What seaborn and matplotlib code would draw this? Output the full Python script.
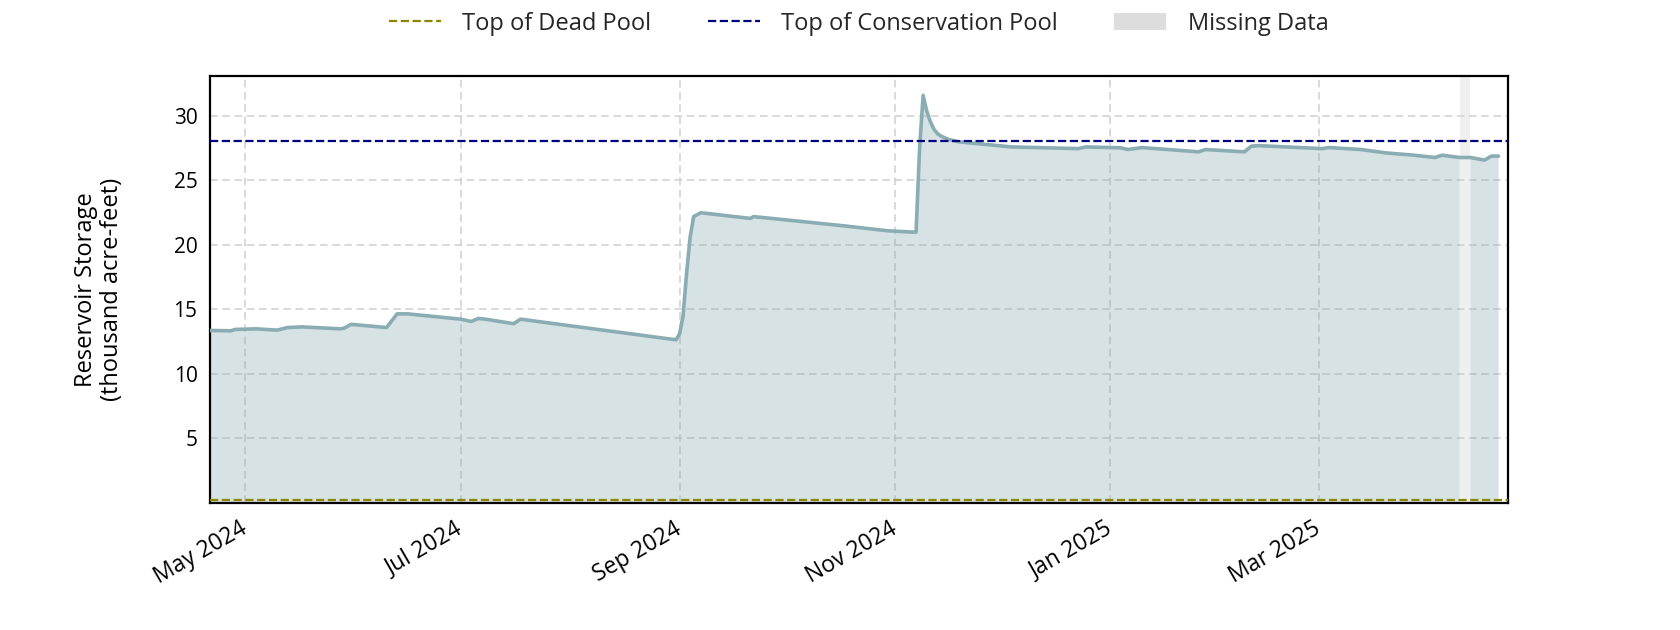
import numpy as np
import pandas as pd
import matplotlib
matplotlib.use("Agg")
import matplotlib.pyplot as plt
import matplotlib.dates as mdates
import matplotlib.transforms as mtransforms
from matplotlib.patches import Patch
from matplotlib.lines import Line2D
import seaborn as sns

# ---------------- data ----------------
dates = [
    "2024-04-21", "2024-04-27", "2024-04-28", "2024-05-04", "2024-05-10", "2024-05-13",
    "2024-05-17", "2024-05-28", "2024-05-29", "2024-05-31", "2024-06-10", "2024-06-13",
    "2024-06-16", "2024-07-01", "2024-07-04", "2024-07-06", "2024-07-08", "2024-07-16",
    "2024-07-18", "2024-07-22", "2024-08-31", "2024-09-01", "2024-09-02", "2024-09-03",
    "2024-09-04", "2024-09-05", "2024-09-07", "2024-09-21", "2024-09-22", "2024-10-17",
    "2024-10-30", "2024-11-06", "2024-11-07", "2024-11-08", "2024-11-09", "2024-11-10",
    "2024-11-11", "2024-11-12", "2024-11-13", "2024-11-14", "2024-11-16", "2024-11-19",
    "2024-12-04", "2024-12-23", "2024-12-25", "2025-01-04", "2025-01-06", "2025-01-10",
    "2025-01-26", "2025-01-28", "2025-02-08", "2025-02-10", "2025-02-12", "2025-03-02",
    "2025-03-04", "2025-03-13", "2025-03-20", "2025-03-28", "2025-04-03", "2025-04-05",
    "2025-04-10", "2025-04-11", "2025-04-13", "2025-04-17", "2025-04-19", "2025-04-21",
]
storage = [
    13.37, 13.35, 13.45, 13.50, 13.40, 13.60,
    13.65, 13.50, 13.55, 13.85, 13.60, 14.66,
    14.66, 14.25, 14.07, 14.30, 14.25, 13.90,
    14.25, 14.10, 12.65, 13.10, 14.50, 17.80,
    20.60, 22.20, 22.50, 22.06, 22.20, 21.50,
    21.10, 21.00, 21.00, 27.50, 31.60, 30.40,
    29.60, 29.00, 28.65, 28.45, 28.20, 28.00,
    27.60, 27.47, 27.60, 27.53, 27.40, 27.55,
    27.22, 27.40, 27.22, 27.66, 27.70, 27.47,
    27.55, 27.40, 27.14, 26.96, 26.78, 26.96,
    26.78, np.nan, 26.78, 26.58, 26.89, 26.89,
]
dead_pool = 0.25
conservation_pool = 28.04
missing_start = "2025-04-10"
missing_end = "2025-04-13"

df = pd.DataFrame({"date": pd.to_datetime(dates), "storage": storage})

# ---------------- style ----------------
sns.set_theme(style="whitegrid")
plt.rcParams["font.family"] = ["Open Sans", "DejaVu Sans"]

line_color = "#8aacb3"
fill_color = "#8aacb3"
dead_color = "#8b8500"
cons_color = "#000080"

fig, ax = plt.subplots(figsize=(16.8, 6.3), dpi=100)
fig.subplots_adjust(left=0.125, right=0.8976, top=0.8794, bottom=0.2016)

ax.axvspan(pd.Timestamp(missing_start), pd.Timestamp(missing_end),
           color="#d3d3d3", alpha=0.35, lw=0, zorder=0.8)
ax.fill_between(df["date"], 0, df["storage"], color=fill_color, alpha=0.35,
                lw=0, zorder=1)
sns.lineplot(data=df, x="date", y="storage", ax=ax, color=line_color, lw=2.6,
             zorder=3)
ax.axhline(dead_pool, color=dead_color, ls="--", lw=1.6, zorder=4)
ax.axhline(conservation_pool, color=cons_color, ls="--", lw=1.6, zorder=4)

ax.set_xlim(pd.Timestamp("2024-04-21"), pd.Timestamp("2025-04-23 16:00"))
ax.set_ylim(0, 33.1)
ax.set_yticks([5, 10, 15, 20, 25, 30])
ax.xaxis.set_major_locator(mdates.MonthLocator(bymonth=[1, 3, 5, 7, 9, 11]))
ax.xaxis.set_major_formatter(mdates.DateFormatter("%b %Y"))

ax.grid(True, color="#d0d0d0", ls=(0, (5, 3)), lw=1.1)
ax.set_axisbelow(True)
for s in ax.spines.values():
    s.set_color("black")
    s.set_linewidth(1.6)
ax.tick_params(axis="both", length=0, colors="black")
ax.tick_params(axis="x", pad=10, labelsize=16.5)
ax.tick_params(axis="y", pad=9, labelsize=15)
offset = mtransforms.ScaledTranslation(-6 / 100, 0, fig.dpi_scale_trans)
for lbl in ax.get_xticklabels():
    lbl.set_rotation(30)
    lbl.set_ha("right")
    lbl.set_rotation_mode("anchor")
    lbl.set_transform(lbl.get_transform() + offset)
ax.set_xlabel("")
ax.set_ylabel("Reservoir Storage\n(thousand acre-feet)", fontsize=17,
              color="black", labelpad=36, linespacing=1.1)

handles = [
    Line2D([], [], color=dead_color, ls="--", lw=1.6),
    Line2D([], [], color=cons_color, ls="--", lw=1.6),
    Patch(facecolor="#dddddd", edgecolor="none"),
]
labels = ["Top of Dead Pool", "Top of Conservation Pool", "Missing Data"]
fig.legend(handles, labels, loc="center", bbox_to_anchor=(0.511, 0.9625),
           ncol=3, frameon=False, fontsize=17, handlelength=2.2,
           handletextpad=0.9, columnspacing=2.4)

fig.savefig("out.png", dpi=100)
